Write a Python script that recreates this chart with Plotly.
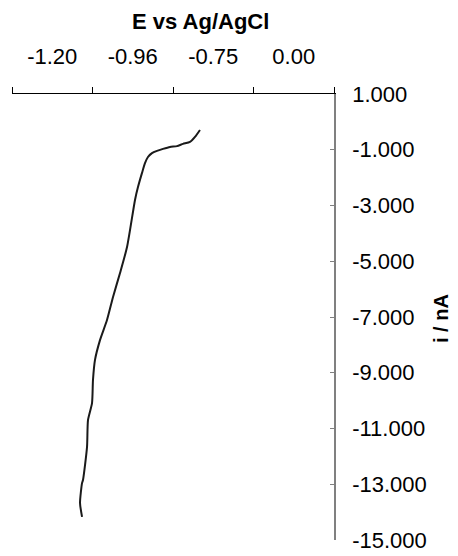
import plotly.graph_objects as go

# Potential axis (category-style positions, 0..4 spans the axis) and current in nA
e_pos = [2.335, 2.273, 2.211, 2.124, 2.050, 1.963, 1.876, 1.801, 1.739, 1.689,
         1.652, 1.615, 1.565, 1.528, 1.429, 1.342, 1.255, 1.180, 1.093, 1.031,
         1.006, 0.994, 0.944, 0.932, 0.882, 0.870, 0.845, 0.870]
current_na = [-0.29, -0.54, -0.72, -0.79, -0.87, -0.90, -0.97, -1.04, -1.12, -1.26,
              -1.48, -1.83, -2.34, -2.80, -4.49, -5.42, -6.28, -7.11, -7.83, -8.54,
              -9.26, -10.09, -10.70, -11.66, -12.85, -12.96, -13.67, -14.17]

x_label_pos = [0.5, 1.5, 2.5, 3.5]
x_labels = ["-1.20", "-0.96", "-0.75", "0.00"]
x_tick_bounds = [0, 1, 2, 3, 4]
y_ticks = [1, -1, -3, -5, -7, -9, -11, -13, -15]
y_labels = ["1.000", "-1.000", "-3.000", "-5.000", "-7.000", "-9.000", "-11.000", "-13.000", "-15.000"]

FONT = "Liberation Sans, Arial, sans-serif"

fig = go.Figure()
fig.add_trace(go.Scatter(x=e_pos, y=current_na, mode="lines",
                         line=dict(color="#1a1a1a", width=2, shape="spline", smoothing=0.6),
                         showlegend=False))

# page body has an 8px margin, so the figure is 8px smaller and shifted
fig.update_layout(
    width=450, height=548,
    margin=dict(l=4, r=124, t=86, b=16),
    paper_bgcolor="white", plot_bgcolor="white",
    font=dict(family=FONT, size=22, color="black"),
    xaxis=dict(
        range=[0, 4], side="top", showgrid=False, zeroline=False, automargin=False,
        showline=True, linecolor="black", linewidth=1,
        tickmode="array", tickvals=x_label_pos, ticktext=x_labels, ticks="",
        ticklabelstandoff=20,
        tickfont=dict(family=FONT, size=22, color="black"),
        minor=dict(tickmode="array", tickvals=x_tick_bounds, ticks="outside",
                   ticklen=6, tickcolor="black", tickwidth=1, showgrid=False),
    ),
    yaxis=dict(
        range=[-15, 1], side="right", showgrid=False, zeroline=False, automargin=False,
        showline=True, linecolor="#808080", linewidth=1.5,
        tickmode="array", tickvals=y_ticks, ticktext=y_labels,
        ticks="inside", ticklen=4, tickcolor="#808080",
        ticklabelstandoff=12,
        tickfont=dict(family=FONT, size=22, color="black"),
    ),
    annotations=[
        dict(text="<b>E vs Ag/AgCl</b>", xref="paper", yref="paper",
             x=(200 - 12) / 322, y=1 + (94 - 22) / 446, xanchor="center", yanchor="middle",
             showarrow=False, font=dict(family=FONT, size=22, color="black")),
        dict(text="<b>i / nA</b>", xref="paper", yref="paper",
             x=(441 - 12) / 322, y=(540 - 319) / 446, xanchor="center", yanchor="middle",
             textangle=-90, showarrow=False, font=dict(family=FONT, size=20, color="black")),
    ],
)

fig.write_html("out.html")
